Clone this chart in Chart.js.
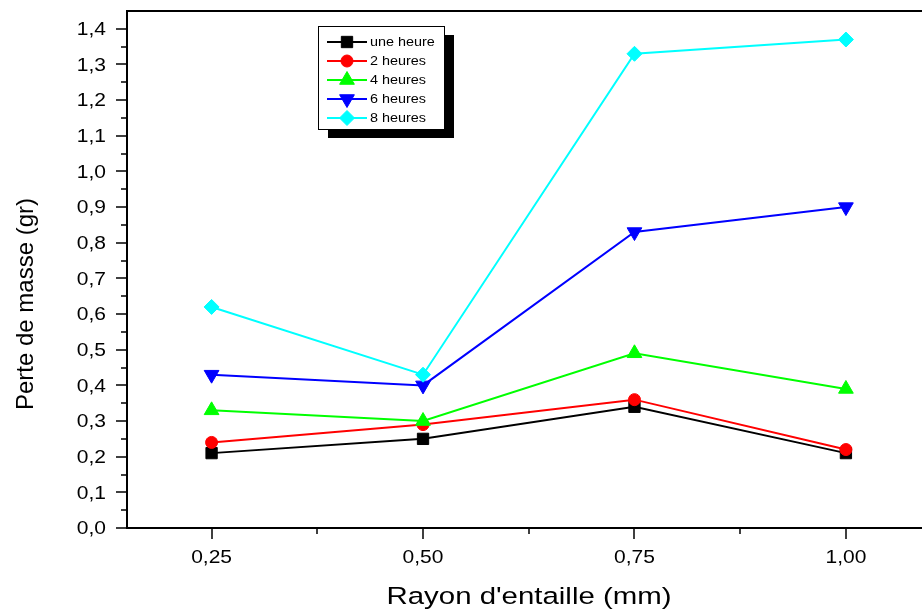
<!DOCTYPE html>
<html>
<head>
<meta charset="utf-8">
<title>Perte de masse</title>
<script src="https://cdn.jsdelivr.net/npm/chart.js@4.4.0/dist/chart.umd.min.js"></script>
<style>
  html, body { margin: 0; padding: 0; background: #fff; overflow: hidden; }
  #wrap { width: 922px; height: 614px; overflow: hidden; }
  #box { width: 940px; height: 614px; }
</style>
</head>
<body>
<div id="wrap"><div id="box"><canvas id="chart"></canvas></div></div>
<script>
// notch radius (mm) and mass loss (gr) per immersion time
const radii = [0.25, 0.5, 0.75, 1.0];
const uneHeure = [0.21, 0.25, 0.34, 0.21];
const deuxHeures = [0.24, 0.29, 0.36, 0.22];
const quatreHeures = [0.33, 0.30, 0.49, 0.39];
const sixHeures = [0.43, 0.40, 0.83, 0.90];
const huitHeures = [0.62, 0.43, 1.33, 1.37];
const seriesLabels = ["une heure", "2 heures", "4 heures", "6 heures", "8 heures"];

const xTicks = [0.25, 0.5, 0.75, 1.0];
const xMinor = [0.375, 0.625, 0.875];
const yTicks = [0, 0.1, 0.2, 0.3, 0.4, 0.5, 0.6, 0.7, 0.8, 0.9, 1.0, 1.1, 1.2, 1.3, 1.4];

const FONT = "'Liberation Sans', Arial, sans-serif";
const SX = 1.2; // horizontal text is drawn slightly widened

function pts(values) {
  return radii.map((r, i) => ({ x: r, y: values[i] }));
}

function makeSet(label, values, color, style, radius, rotation, order) {
  return {
    label: label,
    data: pts(values),
    borderColor: color,
    backgroundColor: color,
    borderWidth: 2,
    pointStyle: style,
    pointRadius: radius,
    pointRotation: rotation,
    pointBorderWidth: 1,
    pointBorderColor: color,
    pointBackgroundColor: color,
    tension: 0,
    order: order,
  };
}

function wideText(ctx, text, x, y, size, align, vertical) {
  ctx.save();
  ctx.translate(x, y);
  if (vertical) {
    ctx.rotate(-Math.PI / 2);
  } else {
    ctx.scale(SX, 1);
  }
  ctx.font = size + "px " + FONT;
  ctx.fillStyle = "#000";
  ctx.textAlign = align;
  ctx.textBaseline = "alphabetic";
  ctx.fillText(text, 0, 0);
  ctx.restore();
}

const fmt = (v, d) => v.toFixed(d).replace(".", ",");

// frame, ticks, tick labels and axis titles
const axesPlugin = {
  id: "axesFrame",
  beforeDatasetsDraw(chart) {
    const { ctx, chartArea: a, scales } = chart;
    const xs = scales.x, ys = scales.y;
    ctx.save();
    ctx.strokeStyle = "#000";
    ctx.lineWidth = 2;
    ctx.strokeRect(a.left, a.top, a.right - a.left, a.bottom - a.top);

    ctx.lineWidth = 1.5;
    ctx.beginPath();
    yTicks.forEach((v) => {
      const y = Math.round(ys.getPixelForValue(v));
      ctx.moveTo(a.left - 11, y);
      ctx.lineTo(a.left, y);
    });
    for (let i = 0; i < yTicks.length; i++) {
      const y = Math.round(ys.getPixelForValue(yTicks[i] + 0.05));
      if (y <= a.top + 2) continue;
      ctx.moveTo(a.left - 6, y);
      ctx.lineTo(a.left, y);
    }
    xTicks.forEach((v) => {
      const x = Math.round(xs.getPixelForValue(v));
      ctx.moveTo(x, a.bottom);
      ctx.lineTo(x, a.bottom + 11);
    });
    xMinor.forEach((v) => {
      const x = Math.round(xs.getPixelForValue(v));
      ctx.moveTo(x, a.bottom);
      ctx.lineTo(x, a.bottom + 6);
    });
    ctx.stroke();
    ctx.restore();

    yTicks.forEach((v) => {
      wideText(ctx, fmt(v, 1), a.left - 21, ys.getPixelForValue(v) + 6.3, 17.5, "right");
    });
    xTicks.forEach((v) => {
      wideText(ctx, fmt(v, 2), xs.getPixelForValue(v), a.bottom + 35, 17.5, "center");
    });

    wideText(ctx, "Rayon d'entaille (mm)", 529, 604, 24.5, "center");
    wideText(ctx, "Perte de masse (gr)", 33, 304, 24, "center", true);
  },
};

// boxed legend with drop shadow
const legendPlugin = {
  id: "boxLegend",
  afterDatasetsDraw(chart) {
    const ctx = chart.ctx;
    const bx = 318, by = 26, bw = 126, bh = 103;
    ctx.save();
    ctx.fillStyle = "#000";
    ctx.fillRect(bx + 10, by + 9, bw, bh);
    ctx.fillStyle = "#fff";
    ctx.fillRect(bx, by, bw, bh);
    ctx.strokeStyle = "#000";
    ctx.lineWidth = 1;
    ctx.strokeRect(bx + 0.5, by + 0.5, bw, bh);

    chart.data.datasets.forEach((ds, i) => {
      const y = 42 + i * 19;
      ctx.strokeStyle = ds.borderColor;
      ctx.fillStyle = ds.backgroundColor;
      ctx.lineWidth = 2;
      ctx.beginPath();
      ctx.moveTo(327, y);
      ctx.lineTo(367, y);
      ctx.stroke();
      ctx.lineWidth = 1;
      Chart.helpers.drawPoint(ctx, {
        pointStyle: ds.pointStyle,
        rotation: ds.pointRotation,
        radius: ds.pointRadius,
        borderWidth: 1,
      }, 347, y);
      wideText(ctx, ds.label, 370, y + 4.3, 12, "left");
    });
    ctx.restore();
  },
};

new Chart(document.getElementById("chart"), {
  type: "line",
  data: {
    datasets: [
      makeSet(seriesLabels[0], uneHeure, "#000000", "rect", 8, 0, 5),
      makeSet(seriesLabels[1], deuxHeures, "#ff0000", "circle", 6, 0, 4),
      makeSet(seriesLabels[2], quatreHeures, "#00ff00", "triangle", 8.5, 0, 3),
      makeSet(seriesLabels[3], sixHeures, "#0000ff", "triangle", 8.5, 180, 2),
      makeSet(seriesLabels[4], huitHeures, "#00ffff", "rectRot", 7.5, 0, 1),
    ],
  },
  options: {
    responsive: true,
    maintainAspectRatio: false,
    animation: false,
    layout: { padding: { left: 127, top: 11, right: 8, bottom: 86 } },
    plugins: { legend: { display: false }, tooltip: { enabled: false } },
    scales: {
      x: { type: "linear", min: 0.15, max: 1.1, display: false },
      y: { type: "linear", min: 0, max: 1.45, display: false },
    },
  },
  plugins: [axesPlugin, legendPlugin],
});
</script>
</body>
</html>
